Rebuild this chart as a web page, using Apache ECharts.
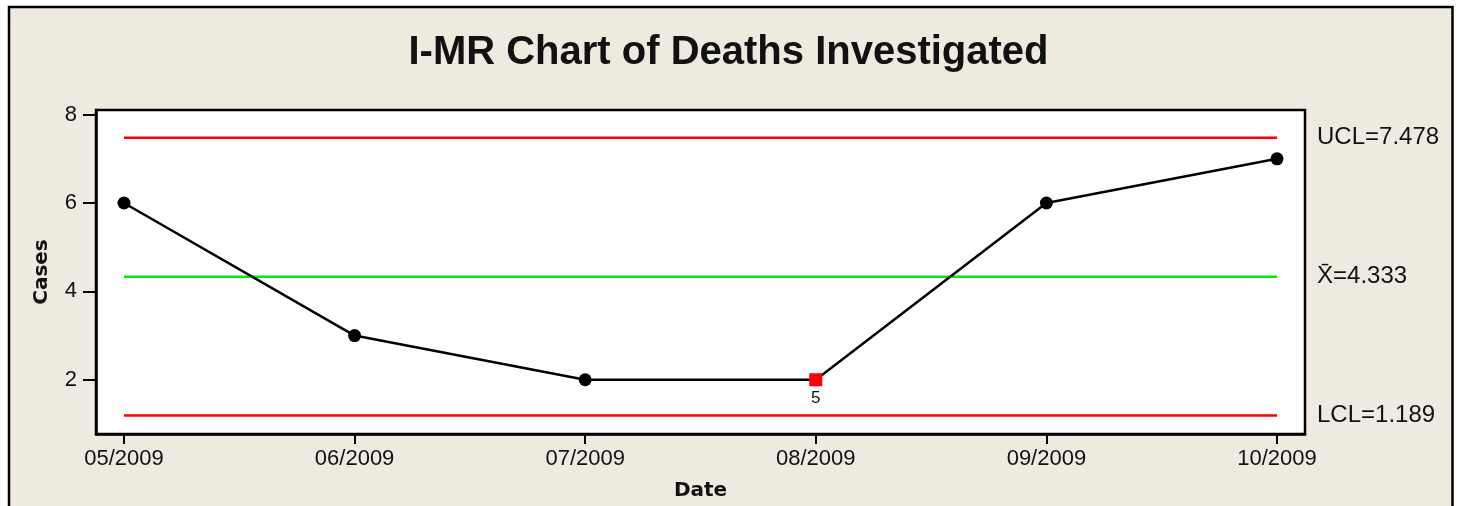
<!DOCTYPE html>
<html>
<head>
<meta charset="utf-8">
<script src="https://cdn.jsdelivr.net/npm/echarts@6/dist/echarts.min.js"></script>
<style>
html,body{margin:0;padding:0;background:#ffffff;}
#chart{width:1457px;height:506px;}
</style>
</head>
<body>
<div id="chart"></div>
<script>
// ---- data ----
var categories = ['05/2009', '06/2009', '07/2009', '08/2009', '09/2009', '10/2009'];
var cases = [6, 3, 2, 2, 6, 7];
var flaggedIndex = [3];          // point failing a test
var flaggedTest = ['5'];         // test number shown under it
var UCL = 7.478;
var MEAN = 4.333;
var LCL = 1.189;
var yTicks = [2, 4, 6, 8];
var xTicks = [0, 1, 2, 3, 4, 5];

// ---- build ----
var mainData = cases.map(function (v, i) {
  var k = flaggedIndex.indexOf(i);
  if (k >= 0) {
    return {
      value: [i, v],
      symbol: 'rect',
      symbolSize: 13,
      itemStyle: { color: '#ff0000' },
      label: { show: true, formatter: flaggedTest[k], position: 'bottom', distance: 4,
               fontFamily: 'Liberation Sans', fontSize: 17, color: '#111' }
    };
  }
  return { value: [i, v] };
});

function ctrlLine(val, color, text) {
  return {
    type: 'line',
    data: [[0, val], [categories.length - 1, val]],
    symbol: 'none',
    silent: true,
    lineStyle: { color: color, width: 2.5 },
    endLabel: {
      show: true, formatter: text, distance: 40,
      fontFamily: 'Liberation Sans', fontSize: 24, color: '#111'
    },
    z: 1
  };
}

var chart = echarts.init(document.getElementById('chart'));
chart.setOption({
  animation: false,
  backgroundColor: '#ffffff',
  graphic: [{
    type: 'rect', z: -100, silent: true,
    shape: { x: 9, y: 7, width: 1443.5, height: 600 },
    style: { fill: '#EEEAE0', stroke: '#000', lineWidth: 2.5 }
  }],
  title: {
    text: 'I-MR Chart of Deaths Investigated',
    left: 'center', top: 28,
    textStyle: { fontFamily: 'Liberation Sans', fontWeight: 'bold', fontSize: 40, color: '#111' }
  },
  grid: {
    left: 96, top: 110, right: 152, bottom: 70,
    show: true, backgroundColor: '#ffffff', borderColor: '#000', borderWidth: 2.5
  },
  xAxis: {
    type: 'value', min: -0.1214, max: 5.1214,
    name: 'Date', nameLocation: 'middle', nameGap: 47,
    nameTextStyle: { fontFamily: 'DejaVu Sans', fontWeight: 'bold', fontSize: 20, color: '#111' },
    axisLine: { show: true, onZero: false, lineStyle: { color: '#000', width: 2.5 } },
    axisTick: { show: true, customValues: xTicks, length: 10, lineStyle: { color: '#000', width: 2 } },
    axisLabel: { customValues: xTicks, margin: 14,
      formatter: function (v) { return categories[Math.round(v)]; },
      fontFamily: 'Liberation Sans', fontSize: 22, color: '#111' },
    splitLine: { show: false }
  },
  yAxis: {
    type: 'value', min: 0.773, max: 8.104,
    name: 'Cases', nameLocation: 'middle', nameGap: 44, nameRotate: 90,
    nameTextStyle: { fontFamily: 'DejaVu Sans', fontWeight: 'bold', fontSize: 20, color: '#111' },
    axisLine: { show: true, onZero: false, lineStyle: { color: '#000', width: 2.5 } },
    axisTick: { show: true, customValues: yTicks, length: 13, lineStyle: { color: '#000', width: 2 } },
    axisLabel: { customValues: yTicks, margin: 19,
      fontFamily: 'Liberation Sans', fontSize: 22, color: '#111' },
    splitLine: { show: false }
  },
  series: [
    ctrlLine(UCL, '#ff0000', 'UCL=' + UCL.toFixed(3)),
    ctrlLine(MEAN, '#00ee00', 'X\u0304=' + MEAN.toFixed(3)),
    ctrlLine(LCL, '#ff0000', 'LCL=' + LCL.toFixed(3)),
    {
      type: 'line',
      data: mainData,
      symbol: 'circle', symbolSize: 13,
      itemStyle: { color: '#000' },
      lineStyle: { color: '#000', width: 2.5 },
      z: 3
    }
  ]
});
</script>
</body>
</html>
